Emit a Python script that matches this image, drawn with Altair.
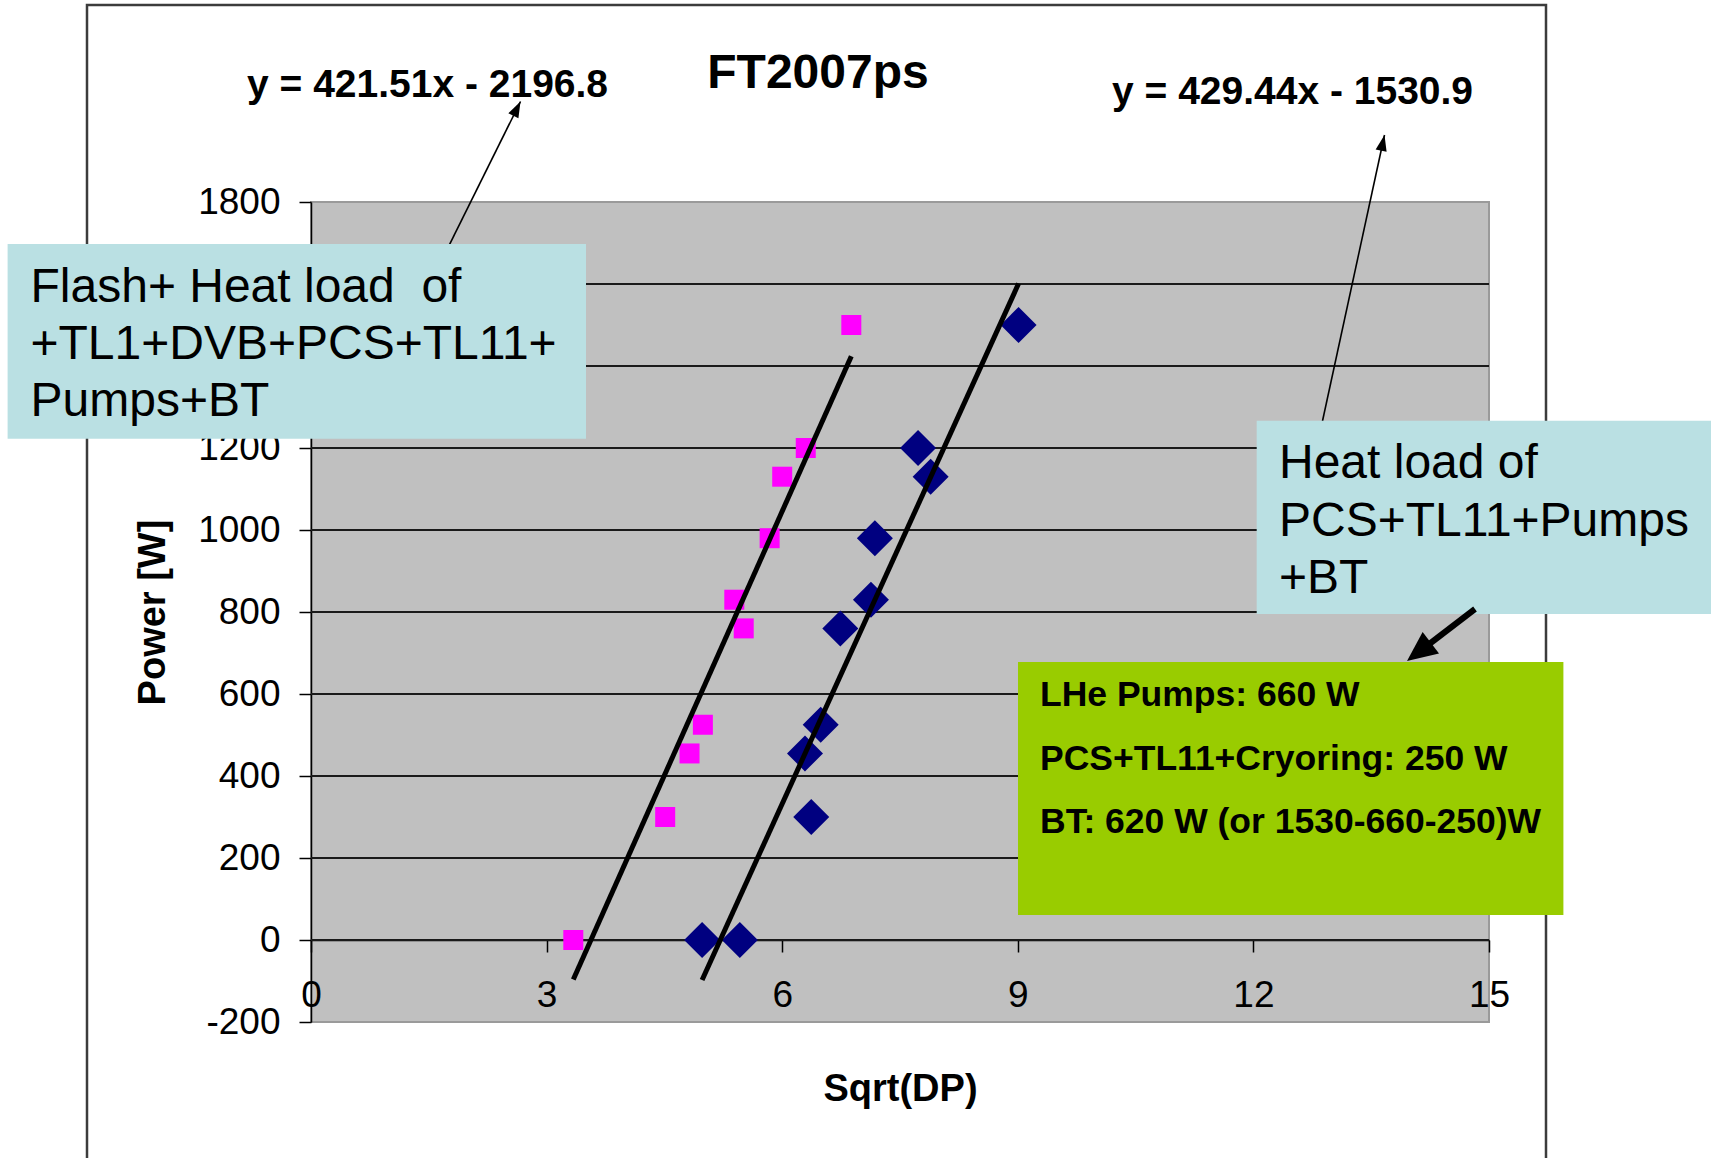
import altair as alt
import pandas as pd

FONT = "Liberation Sans"

# Measured points (x = Sqrt(DP), y = Power [W])
pink_x = [3.34, 4.51, 4.82, 4.99, 5.51, 5.39, 5.84, 6.00, 6.30, 6.88]
pink_y = [0, 300, 455, 525, 760, 830, 980, 1130, 1200, 1500]
navy_x = [4.98, 5.46, 6.37, 6.29, 6.49, 6.74, 7.13, 7.18, 7.89, 7.73, 9.01]
navy_y = [0, 0, 300, 455, 525, 760, 830, 980, 1130, 1200, 1500]

# Linear fits (slope, intercept) printed on the chart
pink_fit = (429.44, -1530.9)
navy_fit = (421.51, -2196.8)

x_ticks = [0, 3, 6, 9, 12, 15]
y_ticks = [-200, 0, 200, 400, 600, 800, 1000, 1200, 1400, 1600, 1800]
# tick labels sitting under the left callout box stay blank
y_hidden_labels = [1400, 1600]
grid_levels = [0, 200, 400, 600, 800, 1000, 1200, 1400, 1600]

title_text = "FT2007ps"
left_box_lines = ["Flash+ Heat load\u00a0 of", "+TL1+DVB+PCS+TL11+", "Pumps+BT"]
right_box_lines = ["Heat load of", "PCS+TL11+Pumps", "+BT"]
green_box_lines = ["LHe Pumps: 660 W", "PCS+TL11+Cryoring: 250 W", "BT: 620 W (or 1530-660-250)W"]


def equation(fit):
    a, b = fit
    return f"y = {a}x - {abs(b)}"


W, H = 1178, 820

pink_df = pd.DataFrame({"x": pink_x, "y": pink_y})
navy_df = pd.DataFrame({"x": navy_x, "y": navy_y})
trend_rows = []
for name, xs, (a, b) in [("pink", pink_x, pink_fit), ("navy", navy_x, navy_fit)]:
    for xv in (min(xs), max(xs)):
        trend_rows.append({"series": name, "x": xv, "y": a * xv + b})
trend_df = pd.DataFrame(trend_rows)
grid_df = pd.DataFrame({"y": grid_levels})
one = pd.DataFrame({"k": [0]})

x_scale = alt.Scale(domain=[0, 15], nice=False, zero=False)
y_scale = alt.Scale(domain=[-200, 1800], nice=False, zero=False)

hidden_test = " || ".join(f"datum.value == {v}" for v in y_hidden_labels)

x_axis = alt.Axis(
    values=x_ticks, offset=-H * 200 / 2000, grid=False,
    domainColor="black", domainWidth=1.5, tickColor="black", tickWidth=1.5, tickSize=12,
    labelFont=FONT, labelFontSize=37, labelColor="black", labelPadding=25,
    labelFlush=False, labelOverlap=False, labelExpr="'' + datum.value",
    title="Sqrt(DP)", titleFont=FONT, titleFontSize=38, titleFontWeight="bold",
    titleColor="black", titleY=160, titleBaseline="alphabetic",
)
y_axis = alt.Axis(
    values=y_ticks, grid=False,
    domainColor="black", domainWidth=1.5, tickColor="black", tickWidth=1.5, tickSize=12,
    labelFont=FONT, labelFontSize=37, labelColor="black", labelPadding=19,
    labelOverlap=False, labelExpr=f"({hidden_test}) ? '' : '' + datum.value",
    title="Power [W]", titleFont=FONT, titleFontSize=38, titleFontWeight="bold",
    titleColor="black", titleAngle=270, titleX=-158, titleY=H / 2,
    titleBaseline="middle", titleAlign="center",
)
X = alt.X("x:Q", scale=x_scale, axis=x_axis)
Y = alt.Y("y:Q", scale=y_scale, axis=y_axis)


def box(x0, x1, y0, y1, fill):
    return alt.Chart(one).mark_rect(color=fill, strokeWidth=0).encode(
        x=alt.value(x0), x2=alt.value(x1), y=alt.value(y0), y2=alt.value(y1))


def label(lines, x, y, size, bold=False, align="left", line_height=None):
    props = dict(text=lines, font=FONT, fontSize=size,
                 fontWeight="bold" if bold else "normal",
                 align=align, baseline="alphabetic", color="black")
    if line_height:
        props["lineHeight"] = line_height
    return alt.Chart(one).mark_text(**props).encode(x=alt.value(x), y=alt.value(y))


def segment(x0, y0, x1, y1, width):
    return alt.Chart(one).mark_rule(color="black", strokeWidth=width).encode(
        x=alt.value(x0), y=alt.value(y0), x2=alt.value(x1), y2=alt.value(y1))


THIN_HEAD = "M0,0L0.35,1L-0.35,1Z"
THICK_HEAD = "M0,0L0.45,1L-0.45,1Z"


def head(x, y, angle, shape, size):
    return alt.Chart(one).mark_point(shape=shape, filled=True, size=size, angle=angle,
                                     color="black", opacity=1, strokeWidth=0).encode(
        x=alt.value(x), y=alt.value(y))


frame = alt.Chart(one).mark_rect(fill="white", fillOpacity=0, stroke="#3c3c3c", strokeWidth=2.5).encode(
    x=alt.value(-224), x2=alt.value(1235), y=alt.value(-197), y2=alt.value(990))

grid = alt.Chart(grid_df).mark_rule(color="#1a1a1a", strokeWidth=1.8).encode(y=Y)

pink_pts = alt.Chart(pink_df).mark_point(shape="square", filled=True, size=400,
                                         color="#FF00FF", opacity=1, strokeWidth=0).encode(x=X, y=Y)
navy_pts = alt.Chart(navy_df).mark_point(shape="diamond", filled=True, size=1296,
                                         color="#000080", opacity=1, strokeWidth=0).encode(x=X, y=Y)
trend = alt.Chart(trend_df).mark_line(color="black", strokeWidth=5).encode(x=X, y=Y, detail="series:N")

layers = [
    frame, grid, pink_pts, navy_pts, trend,
    label([title_text], 507, -114, 48, bold=True, align="center"),
    label([equation(navy_fit)], -64, -105, 39, bold=True),
    label([equation(pink_fit)], 801, -98, 39, bold=True),
    segment(138.6, 42.4, 209.5, -100.5, 1.6),
    head(209.5, -100.5, 26.4, THIN_HEAD, 1024),
    segment(1011.5, 219, 1073.5, -67, 1.6),
    head(1073.5, -67, 12.2, THIN_HEAD, 1024),
    box(-303.4, 275, 42, 236.7, "#BAE0E3"),
    label(left_box_lines, -280.5, 100, 48, line_height=57),
    box(945.7, 1400, 218.7, 412, "#BAE0E3"),
    label(right_box_lines, 968, 276, 48, line_height=57.5),
    box(707, 1252.4, 460, 713, "#99CC00"),
    label(green_box_lines, 729, 504, 35.5, bold=True, line_height=63.5),
    segment(1164, 407, 1117, 443, 6),
    head(1096, 459, 232.6, THICK_HEAD, 3600),
]

chart = alt.layer(*layers).properties(
    width=W, height=H,
    autosize=alt.AutoSizeParams(type="none"),
    padding={"left": 311, "top": 202, "right": 1711 - 311 - W, "bottom": 1158 - 202 - H},
    background="white",
).configure_view(fill="#C0C0C0", stroke="#9a9a9a", strokeWidth=2)

chart.save("out.html", embed_options={"renderer": "svg", "actions": False})
